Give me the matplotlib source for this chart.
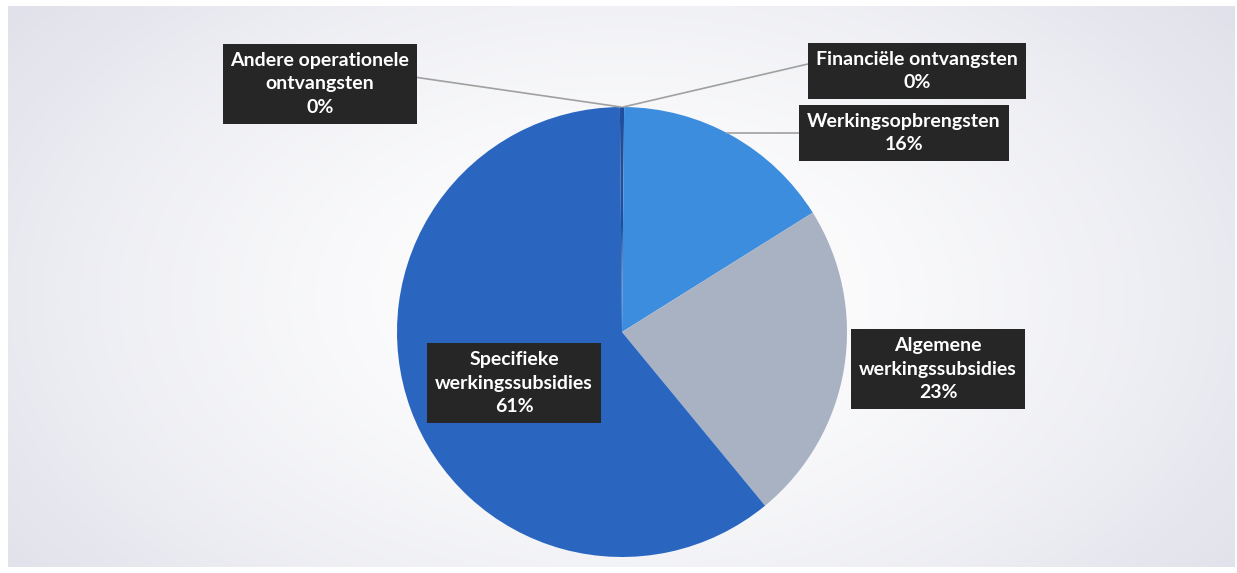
import numpy as np
import matplotlib.pyplot as plt

# aandeel per ontvangstcategorie (%), in wijzerzin vanaf boven
categories = ['Financiële ontvangsten', 'Werkingsopbrengsten', 'Algemene werkingssubsidies',
              'Specifieke werkingssubsidies', 'Andere operationele ontvangsten']
label_text = ['Financiële ontvangsten', 'Werkingsopbrengsten', 'Algemene\nwerkingssubsidies',
              'Specifieke\nwerkingssubsidies', 'Andere operationele\nontvangsten']
values = [0.15, 16, 23, 61, 0.15]
pct_labels = ['0%', '16%', '23%', '61%', '0%']
colors = ['#1f4e9c', '#3d8ddf', '#a8b2c2', '#2a66c0', '#1f4e9c']

W, H = 1237, 573
cx, cy, R = 622, 332, 225

fig = plt.figure(figsize=(W / 100, H / 100), dpi=100)
fig.patch.set_facecolor('white')

# achtergrond met radiaal verloop
bg = fig.add_axes([8 / W, 6 / H, 1 - 10 / W, 1 - 12 / H])
yy, xx = np.mgrid[0:1:300j, 0:1:600j]
d = np.sqrt(((xx - 0.5) / 0.62) ** 2 + ((yy - 0.48) / 0.85) ** 2)
d = np.clip(d, 0, 1) ** 1.6
edge = np.array([224, 225, 234]) / 255
img = 1 - d[..., None] * (1 - edge)
bg.imshow(img, aspect='auto', extent=[0, 1, 0, 1], origin='lower')
bg.axis('off')

ax = fig.add_axes([(cx - R) / W, (H - cy - R) / H, 2 * R / W, 2 * R / H])
wedges, _ = ax.pie(values, colors=colors, startangle=90, counterclock=False,
                   radius=1, wedgeprops=dict(linewidth=0))
ax.set_xlim(-1, 1)
ax.set_ylim(-1, 1)
ax.axis('off')


def px(x, y):
    return (x - cx) / R, (cy - y) / R


# plaats van de labels (pixels in het origineel) en ankerpunt van de lijn
label_pos = [(917, 71), (904, 133), (938, 369), (514, 383), (320, 84)]
leader = [(0, 0.72), (0, 0.5), None, None, (1, 0.62)]

for w, name, pct, pos, rel in zip(wedges, label_text, pct_labels, label_pos, leader):
    txt = name + '\n' + pct
    kw = dict(ha='center', va='center', color='white', fontsize=14, fontweight='bold',
              family=['Lato', 'DejaVu Sans'], linespacing=1.45,
              bbox=dict(boxstyle='square,pad=0.4', facecolor='#262626', edgecolor='none'))
    if rel is None:
        ax.text(*px(*pos), txt, **kw)
    else:
        if rel[0] == 0.5 or abs(w.theta2 - w.theta1) > 1:
            # lijn naar de rand van het segment, horizontaal
            ty = px(*pos)[1]
            tx = np.sqrt(1 - ty ** 2)
            target = (tx, ty)
        else:
            a = np.deg2rad((w.theta1 + w.theta2) / 2)
            target = (np.cos(a), np.sin(a))
        ax.annotate(txt, xy=target, xytext=px(*pos), annotation_clip=False,
                    arrowprops=dict(arrowstyle='-', color='#a0a0a0', lw=1.2,
                                    relpos=rel, shrinkA=0, shrinkB=0), **kw)

fig.savefig('out.png', dpi=100)
